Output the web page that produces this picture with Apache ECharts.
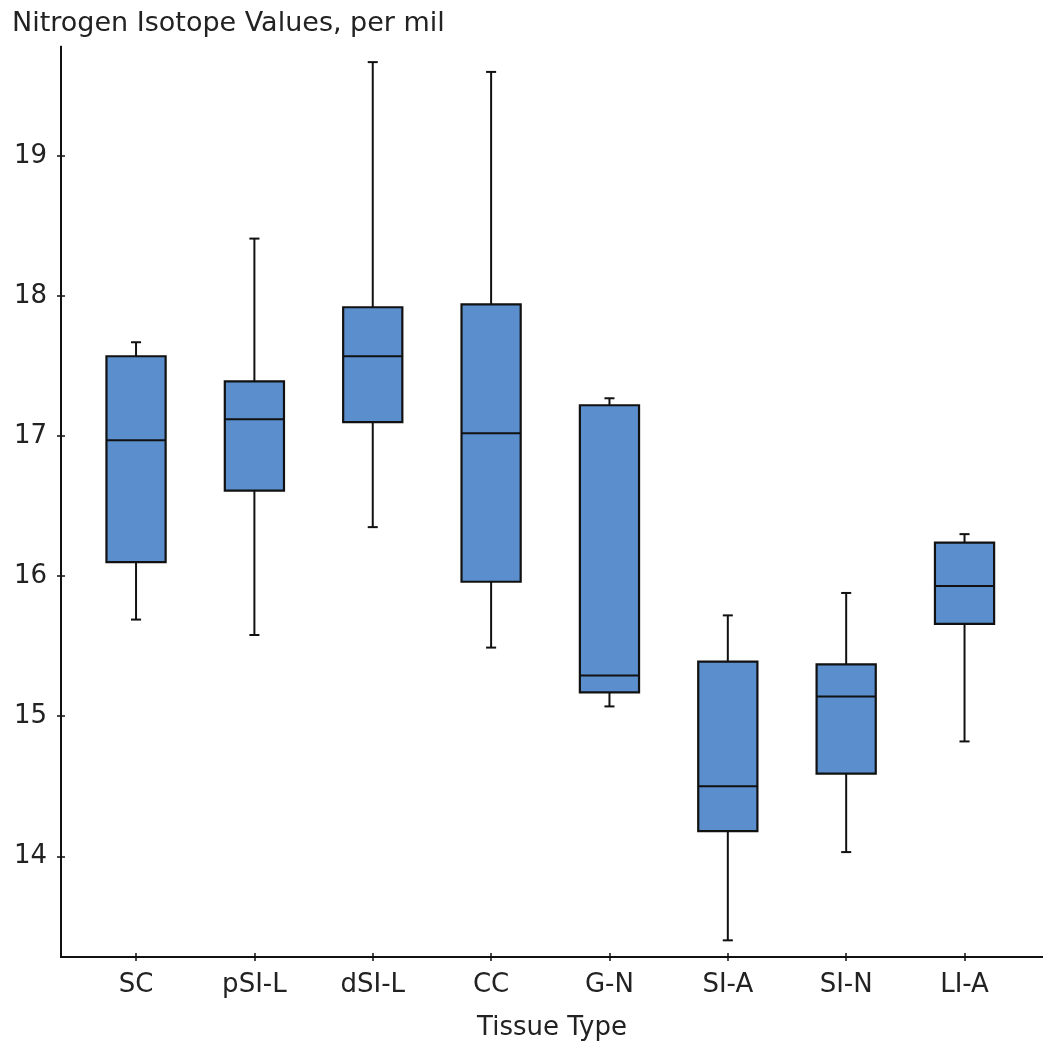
<!DOCTYPE html>
<html>
<head>
<meta charset="utf-8">
<script src="https://cdn.jsdelivr.net/npm/echarts@6/dist/echarts.min.js"></script>
<style>
  html, body { margin: 0; padding: 0; background: #ffffff; }
  #chart { width: 1043px; height: 1048px; }
</style>
</head>
<body>
<div id="chart"></div>
<script>
// ---- Data ----
const categories = ['SC', 'pSI-L', 'dSI-L', 'CC', 'G-N', 'SI-A', 'SI-N', 'LI-A'];
const whiskerLow  = [15.69, 15.58, 16.35, 15.49, 15.07, 13.40, 14.03, 14.82];
const quartile1   = [16.10, 16.61, 17.10, 15.96, 15.17, 14.18, 14.59, 15.66];
const medians     = [16.97, 17.12, 17.57, 17.02, 15.29, 14.50, 15.14, 15.93];
const quartile3   = [17.57, 17.39, 17.92, 17.94, 17.22, 15.39, 15.37, 16.24];
const whiskerHigh = [17.67, 18.41, 19.67, 19.60, 17.27, 15.72, 15.88, 16.30];
const yTickValues = [14, 15, 16, 17, 18, 19];

// ---- Axis ranges / styling ----
const X_MIN = -0.634, X_MAX = 7.663;
const Y_MIN = 13.281, Y_MAX = 19.78;
const BOX_W = 0.5, CAP_W = 0.085;
const FILL = '#5a8ecc', INK = '#111111', TXT = '#222222';
const FONT = 'DejaVu Sans';

const xPositions = categories.map((c, i) => i);
const boxData = categories.map((c, i) => [i, whiskerLow[i], quartile1[i], medians[i], quartile3[i], whiskerHigh[i]]);

function renderBox(params, api) {
  const x = api.value(0);
  const pMin = api.coord([x, api.value(1)]);
  const pQ1 = api.coord([x, api.value(2)]);
  const pMed = api.coord([x, api.value(3)]);
  const pQ3 = api.coord([x, api.value(4)]);
  const pMax = api.coord([x, api.value(5)]);
  const bw = api.size([BOX_W, 0])[0];
  const cw = api.size([CAP_W, 0])[0];
  const cx = pMed[0];
  const lineStyle = { stroke: INK, lineWidth: 2 };
  return {
    type: 'group',
    children: [
      { type: 'line', shape: { x1: cx, y1: pQ3[1], x2: cx, y2: pMax[1] }, style: lineStyle },
      { type: 'line', shape: { x1: cx, y1: pQ1[1], x2: cx, y2: pMin[1] }, style: lineStyle },
      { type: 'line', shape: { x1: cx - cw / 2, y1: pMax[1], x2: cx + cw / 2, y2: pMax[1] }, style: lineStyle },
      { type: 'line', shape: { x1: cx - cw / 2, y1: pMin[1], x2: cx + cw / 2, y2: pMin[1] }, style: lineStyle },
      { type: 'rect', shape: { x: cx - bw / 2, y: pQ3[1], width: bw, height: pQ1[1] - pQ3[1] },
        style: { fill: FILL, stroke: INK, lineWidth: 2.2 } },
      { type: 'line', shape: { x1: cx - bw / 2, y1: pMed[1], x2: cx + bw / 2, y2: pMed[1] }, style: lineStyle }
    ]
  };
}

const gridRect = { left: 61, right: 0, top: 46.7, bottom: 91, outerBoundsMode: 'none' };
const axisLineStyle = { show: true, onZero: false, lineStyle: { color: INK, width: 2 } };

const chart = echarts.init(document.getElementById('chart'), null, { renderer: 'canvas' });
chart.setOption({
  animation: false,
  backgroundColor: '#ffffff',
  title: {
    text: 'Nitrogen Isotope Values, per mil',
    left: 7, top: 5,
    textStyle: { fontFamily: FONT, fontSize: 27, fontWeight: 'normal', color: TXT }
  },
  grid: [Object.assign({}, gridRect), Object.assign({}, gridRect)],
  xAxis: [
    {
      type: 'value', gridIndex: 0, min: X_MIN, max: X_MAX,
      axisLine: axisLineStyle,
      axisTick: { show: true, customValues: xPositions, length: 4, lineStyle: { color: INK, width: 1.5 } },
      axisLabel: {
        show: true, customValues: xPositions, margin: 15,
        formatter: v => categories[Math.round(v)] || '',
        fontFamily: FONT, fontSize: 26, color: TXT
      },
      splitLine: { show: false },
      name: 'Tissue Type', nameLocation: 'middle', nameGap: 58,
      nameTextStyle: { fontFamily: FONT, fontSize: 26, color: TXT }
    },
    {
      type: 'value', gridIndex: 1, min: X_MIN, max: X_MAX,
      axisLine: axisLineStyle,
      axisTick: { show: true, inside: true, customValues: xPositions, length: 4, lineStyle: { color: INK, width: 1.5 } },
      axisLabel: { show: false, customValues: xPositions },
      splitLine: { show: false }
    }
  ],
  yAxis: [
    {
      type: 'value', gridIndex: 0, min: Y_MIN, max: Y_MAX,
      axisLine: axisLineStyle,
      axisTick: { show: true, customValues: yTickValues, length: 4, lineStyle: { color: INK, width: 1.5 } },
      axisLabel: { show: true, customValues: yTickValues, margin: 14, fontFamily: FONT, fontSize: 26, color: TXT },
      splitLine: { show: false }
    },
    {
      type: 'value', gridIndex: 1, min: Y_MIN, max: Y_MAX,
      axisLine: axisLineStyle,
      axisTick: { show: true, inside: true, customValues: yTickValues, length: 4, lineStyle: { color: INK, width: 1.5 } },
      axisLabel: { show: false, customValues: yTickValues },
      splitLine: { show: false }
    }
  ],
  series: [{
    type: 'custom',
    xAxisIndex: 0, yAxisIndex: 0,
    renderItem: renderBox,
    encode: { x: 0, y: [1, 2, 3, 4, 5] },
    data: boxData,
    clip: false
  }, {
    type: 'line',
    xAxisIndex: 1, yAxisIndex: 1,
    data: [],
    silent: true
  }]
});
</script>
</body>
</html>
